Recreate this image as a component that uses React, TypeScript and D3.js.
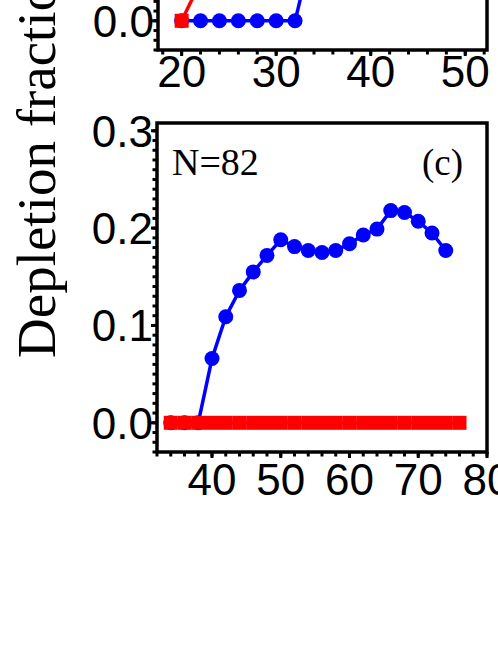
import React from "react";
import * as d3 from "d3";

// Panel (c): N=82
const cX = [34, 36, 38, 40, 42, 44, 46, 48, 50, 52, 54, 56, 58, 60, 62, 64, 66, 68, 70, 72, 74];
const cBlue = [0, 0, 0, 0.066, 0.109, 0.136, 0.155, 0.172, 0.188, 0.181, 0.177, 0.175, 0.177, 0.184, 0.193, 0.199, 0.218, 0.216, 0.207, 0.195, 0.177];
const cRedX = [34, 36, 38, 40, 42, 44, 46, 48, 50, 52, 54, 56, 58, 60, 62, 64, 66, 68, 70, 72, 74, 76];
const cRed = [0, 0, 0, 0, 0, 0, 0, 0, 0, 0, 0, 0, 0, 0, 0, 0, 0, 0, 0, 0, 0, 0];
const cXTicks = [40, 50, 60, 70, 80];
const cYTicks = [0.0, 0.1, 0.2, 0.3];

// Upper panel (only its bottom edge is visible)
const bBlueX = [20, 22, 24, 26, 28, 30, 32, 34];
const bBlue = [0, 0, 0, 0, 0, 0, 0, 0.08];
const bRedX = [20, 22];
const bRed = [0, 0.04];
const bXTicks = [20, 30, 40, 50];
const bYTicks = [0.0];

const BLUE = "#0000ff";
const RED = "#ff0000";
const SANS = "'Liberation Sans', Arial, sans-serif";
const SERIF = "'Liberation Serif', 'Times New Roman', serif";

type PanelProps = {
  x0: number; x1: number; yTop: number; yBot: number;
  xDomain: [number, number];
  xTicks: number[]; yTicks: number[]; xMinorStep: number;
  blue: { x: number[]; y: number[] };
  red: { x: number[]; y: number[] };
  labelGap: number;
};

function Panel(p: PanelProps) {
  const x = d3.scaleLinear().domain(p.xDomain).range([p.x0, p.x1]);
  const y = d3.scaleLinear().domain([-0.03, 0.308]).range([p.yBot, p.yTop]);
  const line = d3.line<[number, number]>().x(d => x(d[0])).y(d => y(d[1]));
  const bluePts: [number, number][] = p.blue.x.map((v, i) => [v, p.blue.y[i]]);
  const redPts: [number, number][] = p.red.x.map((v, i) => [v, p.red.y[i]]);
  const xMinor = d3.range(Math.ceil(p.xDomain[0] / p.xMinorStep) * p.xMinorStep, p.xDomain[1] + 1e-9, p.xMinorStep);
  const yMinor = d3.range(-3, 31).map(i => i / 100).filter(v => v >= -0.03 && v <= 0.308);
  return (
    <g>
      {xMinor.map((v, i) => (
        <line key={"xm" + i} x1={x(v)} x2={x(v)} y1={p.yBot} y2={p.yBot + 4.5} stroke="#000" strokeWidth={3} />
      ))}
      {p.xTicks.map((v, i) => (
        <line key={"xM" + i} x1={x(v)} x2={x(v)} y1={p.yBot} y2={p.yBot + 6} stroke="#000" strokeWidth={3} />
      ))}
      {yMinor.map((v, i) => (
        <line key={"ym" + i} x1={p.x0} x2={p.x0 - 4.5} y1={y(v)} y2={y(v)} stroke="#000" strokeWidth={3} />
      ))}
      {p.yTicks.map((v, i) => (
        <line key={"yM" + i} x1={p.x0} x2={p.x0 - 6} y1={y(v)} y2={y(v)} stroke="#000" strokeWidth={3} />
      ))}
      <rect x={p.x0} y={p.yTop} width={p.x1 - p.x0} height={p.yBot - p.yTop} fill="none" stroke="#000" strokeWidth={3.5} />
      {p.yTicks.map((v, i) => (
        <text key={"yl" + i} x={p.x0 - 4} y={y(v)} dy="0.36em" textAnchor="end"
          fontFamily={SANS} fontSize={44}>{d3.format(".1f")(v)}</text>
      ))}
      {p.xTicks.map((v, i) => (
        <text key={"xl" + i} x={x(v)} y={p.yBot + p.labelGap} dy="0.72em" textAnchor="middle"
          fontFamily={SANS} fontSize={44}>{v}</text>
      ))}
      <path d={line(bluePts) || ""} fill="none" stroke={BLUE} strokeWidth={3.5} />
      {bluePts.map((d, i) => (
        <circle key={"b" + i} cx={x(d[0])} cy={y(d[1])} r={7.5} fill={BLUE} />
      ))}
      <path d={line(redPts) || ""} fill="none" stroke={RED} strokeWidth={3.5} />
      {redPts.map((d, i) => (
        <rect key={"r" + i} x={x(d[0]) - 7} y={y(d[1]) - 7} width={14} height={14} fill={RED} />
      ))}
    </g>
  );
}

export default function App() {
  return (
    <svg width={498} height={645} style={{ position: "absolute", left: 0, top: 0, background: "#fff" }}>
      <rect x={0} y={0} width={498} height={645} fill="#fff" />
      <Panel x0={158} x1={487} yTop={50 - 329} yBot={50} xDomain={[17.5, 52.3]} xTicks={bXTicks} yTicks={bYTicks} xMinorStep={2}
        blue={{ x: bBlueX, y: bBlue }} red={{ x: bRedX, y: bRed }} labelGap={5} />
      <Panel x0={157} x1={487} yTop={123} yBot={452} xDomain={[32, 80]} xTicks={cXTicks} yTicks={cYTicks} xMinorStep={2}
        blue={{ x: cX, y: cBlue }} red={{ x: cRedX, y: cRed }} labelGap={11} />
      <text x={172} y={175} fontFamily={SERIF} fontSize={38}>N=82</text>
      <text x={422} y={175} fontFamily={SERIF} fontSize={37}>(c)</text>
      <text transform="translate(55,358) rotate(-90)" fontFamily={SERIF} fontSize={55}>Depletion fraction</text>
    </svg>
  );
}
